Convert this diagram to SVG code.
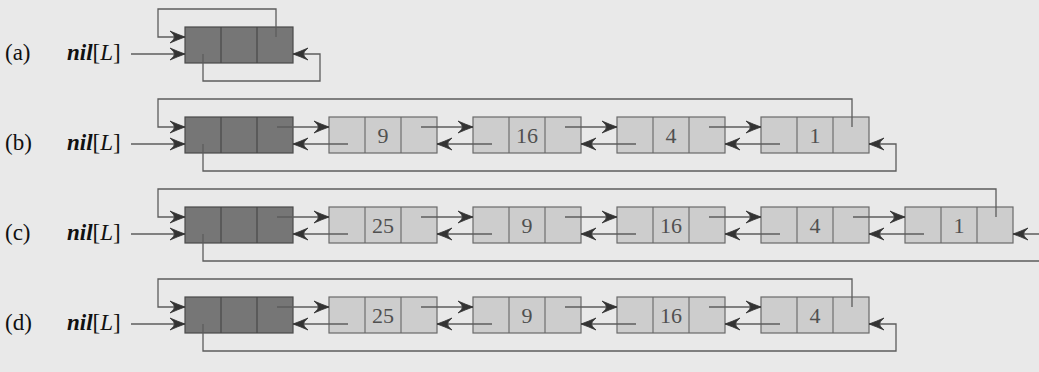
<svg xmlns="http://www.w3.org/2000/svg" width="1039" height="372" viewBox="0 0 1039 372">
<defs>
<style>
.lbl{font-family:"Liberation Serif","Times New Roman",serif;font-size:23px;fill:#111}
.nil{font-family:"Liberation Serif","Times New Roman",serif;font-size:23px;fill:#111;font-style:italic}
.num{font-family:"Liberation Serif","Times New Roman",serif;font-size:22px;fill:#505050;text-anchor:middle}
.sent{fill:#767676;stroke:#4a4a4a;stroke-width:1.2}
.node{fill:#cdcdcd;stroke:#6a6a6a;stroke-width:1.2}
.div{stroke:#444;stroke-width:1.1}
.divl{stroke:#666;stroke-width:1.1}
.con{fill:none;stroke:#5c5c5c;stroke-width:1.3}
</style>
<marker id="ah" markerWidth="18" markerHeight="14" refX="16" refY="7" orient="auto" markerUnits="userSpaceOnUse">
<path d="M16,7 Q9,4.5 1,1 Q5.5,5 5.5,7 Q5.5,9 1,13 Q9,9.5 16,7 Z" fill="#333" stroke="#333" stroke-width="0.8" stroke-linejoin="round"/>
</marker>
</defs>
<rect width="1039" height="372" fill="#e9e9e9"/>

<g id="labels">
<text class="lbl" x="5" y="60">(a)</text>
<text class="nil" x="67" y="60"><tspan font-weight="bold">nil</tspan><tspan font-style="normal">[</tspan>L<tspan font-style="normal">]</tspan></text>
<text class="lbl" x="5" y="150">(b)</text>
<text class="nil" x="67" y="150"><tspan font-weight="bold">nil</tspan><tspan font-style="normal">[</tspan>L<tspan font-style="normal">]</tspan></text>
<text class="lbl" x="5" y="240">(c)</text>
<text class="nil" x="67" y="240"><tspan font-weight="bold">nil</tspan><tspan font-style="normal">[</tspan>L<tspan font-style="normal">]</tspan></text>
<text class="lbl" x="5" y="330">(d)</text>
<text class="nil" x="67" y="330"><tspan font-weight="bold">nil</tspan><tspan font-style="normal">[</tspan>L<tspan font-style="normal">]</tspan></text>
</g>

<!-- Row a -->
<g id="a-sentinel"><rect class="sent" x="185" y="27" width="108" height="36"/><line class="div" x1="221" y1="27" x2="221" y2="63"/><line class="div" x1="257" y1="27" x2="257" y2="63"/></g>

<!-- Row b -->
<g id="b-sentinel"><rect class="sent" x="185" y="117" width="108" height="36"/><line class="div" x1="221" y1="117" x2="221" y2="153"/><line class="div" x1="257" y1="117" x2="257" y2="153"/></g>
<g id="b-node-9"><rect class="node" x="329" y="117" width="108" height="36"/><line class="divl" x1="365" y1="117" x2="365" y2="153"/><line class="divl" x1="401" y1="117" x2="401" y2="153"/><text class="num" x="383" y="143">9</text></g>
<g id="b-node-16"><rect class="node" x="473" y="117" width="108" height="36"/><line class="divl" x1="509" y1="117" x2="509" y2="153"/><line class="divl" x1="545" y1="117" x2="545" y2="153"/><text class="num" x="527" y="143">16</text></g>
<g id="b-node-4"><rect class="node" x="617" y="117" width="108" height="36"/><line class="divl" x1="653" y1="117" x2="653" y2="153"/><line class="divl" x1="689" y1="117" x2="689" y2="153"/><text class="num" x="671" y="143">4</text></g>
<g id="b-node-1"><rect class="node" x="761" y="117" width="108" height="36"/><line class="divl" x1="797" y1="117" x2="797" y2="153"/><line class="divl" x1="833" y1="117" x2="833" y2="153"/><text class="num" x="815" y="143">1</text></g>

<!-- Row c -->
<g id="c-sentinel"><rect class="sent" x="185" y="207" width="108" height="36"/><line class="div" x1="221" y1="207" x2="221" y2="243"/><line class="div" x1="257" y1="207" x2="257" y2="243"/></g>
<g id="c-node-25"><rect class="node" x="329" y="207" width="108" height="36"/><line class="divl" x1="365" y1="207" x2="365" y2="243"/><line class="divl" x1="401" y1="207" x2="401" y2="243"/><text class="num" x="383" y="233">25</text></g>
<g id="c-node-9"><rect class="node" x="473" y="207" width="108" height="36"/><line class="divl" x1="509" y1="207" x2="509" y2="243"/><line class="divl" x1="545" y1="207" x2="545" y2="243"/><text class="num" x="527" y="233">9</text></g>
<g id="c-node-16"><rect class="node" x="617" y="207" width="108" height="36"/><line class="divl" x1="653" y1="207" x2="653" y2="243"/><line class="divl" x1="689" y1="207" x2="689" y2="243"/><text class="num" x="671" y="233">16</text></g>
<g id="c-node-4"><rect class="node" x="761" y="207" width="108" height="36"/><line class="divl" x1="797" y1="207" x2="797" y2="243"/><line class="divl" x1="833" y1="207" x2="833" y2="243"/><text class="num" x="815" y="233">4</text></g>
<g id="c-node-1"><rect class="node" x="905" y="207" width="108" height="36"/><line class="divl" x1="941" y1="207" x2="941" y2="243"/><line class="divl" x1="977" y1="207" x2="977" y2="243"/><text class="num" x="959" y="233">1</text></g>

<!-- Row d -->
<g id="d-sentinel"><rect class="sent" x="185" y="297" width="108" height="36"/><line class="div" x1="221" y1="297" x2="221" y2="333"/><line class="div" x1="257" y1="297" x2="257" y2="333"/></g>
<g id="d-node-25"><rect class="node" x="329" y="297" width="108" height="36"/><line class="divl" x1="365" y1="297" x2="365" y2="333"/><line class="divl" x1="401" y1="297" x2="401" y2="333"/><text class="num" x="383" y="323">25</text></g>
<g id="d-node-9"><rect class="node" x="473" y="297" width="108" height="36"/><line class="divl" x1="509" y1="297" x2="509" y2="333"/><line class="divl" x1="545" y1="297" x2="545" y2="333"/><text class="num" x="527" y="323">9</text></g>
<g id="d-node-16"><rect class="node" x="617" y="297" width="108" height="36"/><line class="divl" x1="653" y1="297" x2="653" y2="333"/><line class="divl" x1="689" y1="297" x2="689" y2="333"/><text class="num" x="671" y="323">16</text></g>
<g id="d-node-4"><rect class="node" x="761" y="297" width="108" height="36"/><line class="divl" x1="797" y1="297" x2="797" y2="333"/><line class="divl" x1="833" y1="297" x2="833" y2="333"/><text class="num" x="815" y="323">4</text></g>

<g id="connectors" class="con">
<!-- a -->
<path class="con" d="M131,54 H185" marker-end="url(#ah)"/>
<path class="con" d="M276,37 V9 H158 V37 H185" marker-end="url(#ah)"/>
<path class="con" d="M203,54 V81 H320 V54 H293" marker-end="url(#ah)"/>
<!-- b -->
<path class="con" d="M131,144 H185" marker-end="url(#ah)"/>
<path class="con" d="M852,127 V99 H158 V127 H185" marker-end="url(#ah)"/>
<path class="con" d="M203,144 V171 H896 V144 H869" marker-end="url(#ah)"/>
<path class="con" d="M277,127 H329" marker-end="url(#ah)"/>
<path class="con" d="M421,127 H473" marker-end="url(#ah)"/>
<path class="con" d="M565,127 H617" marker-end="url(#ah)"/>
<path class="con" d="M709,127 H761" marker-end="url(#ah)"/>
<path class="con" d="M348,144 H293" marker-end="url(#ah)"/>
<path class="con" d="M492,144 H437" marker-end="url(#ah)"/>
<path class="con" d="M636,144 H581" marker-end="url(#ah)"/>
<path class="con" d="M780,144 H725" marker-end="url(#ah)"/>
<!-- c -->
<path class="con" d="M131,234 H185" marker-end="url(#ah)"/>
<path class="con" d="M996,217 V189 H158 V217 H185" marker-end="url(#ah)"/>
<path class="con" d="M203,234 V261 H1045 V234 H1013" marker-end="url(#ah)"/>
<path class="con" d="M277,217 H329" marker-end="url(#ah)"/>
<path class="con" d="M421,217 H473" marker-end="url(#ah)"/>
<path class="con" d="M565,217 H617" marker-end="url(#ah)"/>
<path class="con" d="M709,217 H761" marker-end="url(#ah)"/>
<path class="con" d="M853,217 H905" marker-end="url(#ah)"/>
<path class="con" d="M348,234 H293" marker-end="url(#ah)"/>
<path class="con" d="M492,234 H437" marker-end="url(#ah)"/>
<path class="con" d="M636,234 H581" marker-end="url(#ah)"/>
<path class="con" d="M780,234 H725" marker-end="url(#ah)"/>
<path class="con" d="M924,234 H869" marker-end="url(#ah)"/>
<!-- d -->
<path class="con" d="M131,324 H185" marker-end="url(#ah)"/>
<path class="con" d="M852,307 V279 H158 V307 H185" marker-end="url(#ah)"/>
<path class="con" d="M203,324 V351 H896 V324 H869" marker-end="url(#ah)"/>
<path class="con" d="M277,307 H329" marker-end="url(#ah)"/>
<path class="con" d="M421,307 H473" marker-end="url(#ah)"/>
<path class="con" d="M565,307 H617" marker-end="url(#ah)"/>
<path class="con" d="M709,307 H761" marker-end="url(#ah)"/>
<path class="con" d="M348,324 H293" marker-end="url(#ah)"/>
<path class="con" d="M492,324 H437" marker-end="url(#ah)"/>
<path class="con" d="M636,324 H581" marker-end="url(#ah)"/>
<path class="con" d="M780,324 H725" marker-end="url(#ah)"/>
</g>
</svg>
